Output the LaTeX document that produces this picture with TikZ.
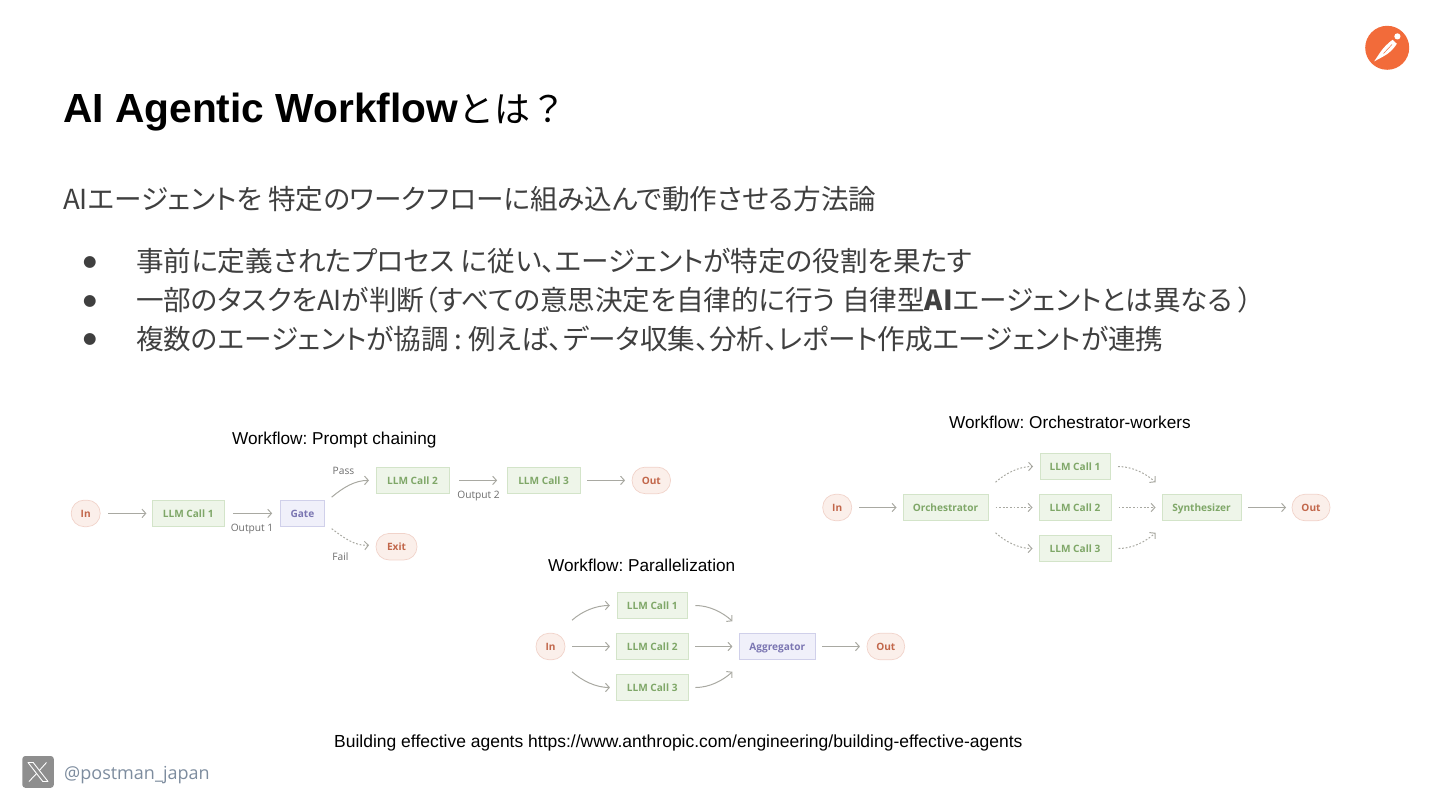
\documentclass[tikz,border=0pt]{standalone}
\usepackage{fontspec}
\usetikzlibrary{arrows.meta,calc}
\setmainfont{Liberation Sans}
\newfontfamily\cjk[RawFeature={+palt}]{Noto Sans CJK JP}
\newfontfamily\cjkfull{Noto Sans CJK JP}
\newfontfamily\flowfont{Open Sans}
\newfontfamily\bulletfont{DejaVu Sans}
\definecolor{bodytxt}{HTML}{3F3F3F}
\definecolor{arrowc}{HTML}{A9A9A2}
\definecolor{gfill}{HTML}{EEF5E9}
\definecolor{gline}{HTML}{D3E4C9}
\definecolor{gtext}{HTML}{7FA768}
\definecolor{pfill}{HTML}{F0F0FA}
\definecolor{pline}{HTML}{D0D0EA}
\definecolor{ptext}{HTML}{7B76B2}
\definecolor{rfill}{HTML}{FBEFEA}
\definecolor{rline}{HTML}{F1D3CA}
\definecolor{rtext}{HTML}{C2674B}
\definecolor{lbl}{HTML}{6C6C6C}
\definecolor{handle}{HTML}{7D8C9E}
\definecolor{orange}{HTML}{F26B3A}
\definecolor{xgray}{HTML}{8E8E8E}
\frenchspacing
\tikzset{
  boxbase/.style={draw,line width=.7pt,outer sep=0pt,inner sep=0pt,minimum height=26.5pt,text height=7.2pt,text depth=0pt,font=\flowfont\bfseries\fontsize{10.1}{12}\selectfont},
  llm/.style={boxbase,fill=gfill,draw=gline,text=gtext},
  gatebox/.style={boxbase,fill=pfill,draw=pline,text=ptext},
  pill/.style={boxbase,fill=rfill,draw=rline,text=rtext,rounded corners=13pt},
  conn/.style={draw=arrowc,line width=1pt,-{Straight Barb[length=3.8pt,width=8.5pt]}},
  conndot/.style={conn,dash pattern=on 1.8pt off 1.8pt},
  lab/.style={font=\flowfont\fontsize{10.2}{12}\selectfont,text=lbl,inner sep=0pt},
  captxt/.style={font=\fontsize{17.2}{20}\selectfont,text=black,anchor=base west,inner sep=0pt},
  jp/.style={font=\cjk\fontsize{27.6}{32}\selectfont,text=bodytxt,anchor=base west,inner sep=0pt},
  bul/.style={font=\bulletfont\fontsize{15.5}{20}\selectfont,text=bodytxt,inner sep=0pt},
}
\begin{document}
\begin{tikzpicture}[x=1pt,y=-1pt]
\useasboundingbox (0,0) rectangle (1440,810);
% title
\node[anchor=base west,inner sep=0pt,text=black] (title) at (63,123) {\fontsize{40.7}{48}\selectfont\bfseries AI Agentic Workflow\cjkfull\mdseries\fontsize{36}{48}\selectfont とは？};
\node[jp] (lead) at (63,210) {AIエージェントを 特定のワークフローに組み込んで動作させる方法論};
\node[bul] (b1) at (90,262.5) {●};
\node[bul] (b2) at (90,301) {●};
\node[bul] (b3) at (90,339.5) {●};
\node[jp] (l1) at (136,272) {事前に定義されたプロセス に従い、エージェントが特定の役割を果たす};
\node[jp] (l2) at (136,310.5) {一部のタスクをAIが判断（すべての意思決定を自律的に行う 自律型{\bfseries AI}エージェントとは異なる ）};
\node[jp] (l3) at (136,349) {複数のエージェントが協調 : 例えば、データ収集、分析、レポート作成エージェントが連携};
% captions
\node[captxt] (c1) at (232,444) {Workflow: Prompt chaining};
\node[captxt] (c2) at (548,571) {Workflow: Parallelization};
\node[captxt] (c3) at (949,428) {Workflow: Orchestrator-workers};
\node[captxt,font=\fontsize{17.48}{20}\selectfont] (c4) at (334,747) {Building effective agents https://www.anthropic.com/engineering/building-effective-agents};
% prompt chaining
\node[pill,minimum width=29pt] (pIn) at (85.7,513.4) {In};
\node[llm,minimum width=71.5pt] (pA) at (188.2,513.4) {LLM Call 1};
\node[gatebox,minimum width=44.5pt] (pG) at (302.4,513.4) {Gate};
\node[llm,minimum width=73pt] (pB) at (412.5,480.4) {LLM Call 2};
\node[llm,minimum width=73pt] (pC) at (543.6,480.4) {LLM Call 3};
\node[pill,minimum width=38.5pt] (pOut) at (651.3,480.4) {Out};
\node[pill,minimum width=41pt] (pExit) at (396.5,546.7) {Exit};
\node[lab] (lo1) at (252,529) {Output 1};
\node[lab] (lo2) at (478.5,496.5) {Output 2};
\node[lab] (lpass) at (343.5,470.5) {Pass};
\node[lab] (lfail) at (340.5,557) {Fail};
\draw[conn] ($(pIn.east)+(8,0)$) -- ($(pA.west)+(-6,0)$);
\draw[conn] ($(pA.east)+(9,0)$) -- ($(pG.west)+(-8,0)$);
\draw[conn] ($(pG.north east)+(7,-3)$) .. controls +(12,-10) and +(-14,0) .. ($(pB.west)+(-7,0)$);
\draw[conndot] ($(pG.south east)+(7,2)$) .. controls +(12,9) and +(-14,1) .. ($(pExit.west)+(-7,-1.5)$);
\draw[conn] ($(pB.east)+(10,0)$) -- ($(pC.west)+(-10,0)$);
\draw[conn] ($(pC.east)+(7,0)$) -- ($(pOut.west)+(-7,0)$);
% parallelization
\node[pill,minimum width=29pt] (qIn) at (550.5,646.5) {In};
\node[llm,minimum width=70pt] (qA) at (652.3,605.5) {LLM Call 1};
\node[llm,minimum width=71.5pt] (qB) at (652.2,646.5) {LLM Call 2};
\node[llm,minimum width=71.5pt] (qC) at (652.2,687.5) {LLM Call 3};
\node[gatebox,minimum width=76.7pt] (qG) at (777.3,646.5) {Aggregator};
\node[pill,minimum width=37.7pt] (qOut) at (885.8,646.5) {Out};
\draw[conn] ($(qIn.north east)+(7,-13)$) .. controls +(10,-9) and +(-14,0) .. ($(qA.west)+(-7.5,0)$);
\draw[conn] ($(qIn.east)+(7,0)$) -- ($(qB.west)+(-6.5,0)$);
\draw[conn] ($(qIn.south east)+(7,12)$) .. controls +(10,9) and +(-14,0) .. ($(qC.west)+(-6.5,0)$);
\draw[conn] ($(qA.east)+(8,0)$) .. controls +(14,0) and +(-10,-9) .. ($(qG.north west)+(-6.5,-12)$);
\draw[conn] ($(qB.east)+(7.5,0)$) -- ($(qG.west)+(-6.5,0)$);
\draw[conn] ($(qC.east)+(7.5,0)$) .. controls +(14,0) and +(-10,9) .. ($(qG.south west)+(-6.5,12)$);
\draw[conn] ($(qG.east)+(6.8,0)$) -- ($(qOut.west)+(-7,0)$);
% orchestrator-workers
\node[pill,minimum width=29pt] (rIn) at (837.2,507.5) {In};
\node[llm,minimum width=85pt] (rO) at (945.5,507.5) {Orchestrator};
\node[llm,minimum width=70pt] (rA) at (1075,466.5) {LLM Call 1};
\node[llm,minimum width=72pt] (rB) at (1075,507.5) {LLM Call 2};
\node[llm,minimum width=72pt] (rC) at (1075,548.5) {LLM Call 3};
\node[llm,minimum width=79pt] (rS) at (1201.5,507.5) {Synthesizer};
\node[pill,minimum width=38pt] (rOut) at (1311,507.5) {Out};
\draw[conn] ($(rIn.east)+(7.5,0)$) -- ($(rO.west)+(-6.5,0)$);
\draw[conndot] ($(rO.north east)+(7.5,-12)$) .. controls +(10,-9) and +(-14,0) .. ($(rA.west)+(-7,0)$);
\draw[conndot] ($(rO.east)+(7.5,0)$) -- ($(rB.west)+(-6.5,0)$);
\draw[conndot] ($(rO.south east)+(7.5,12)$) .. controls +(10,9) and +(-14,0) .. ($(rC.west)+(-6.5,0)$);
\draw[conndot] ($(rA.east)+(8,0)$) .. controls +(14,0) and +(-10,-9) .. ($(rS.north west)+(-6.5,-12)$);
\draw[conndot] ($(rB.east)+(7.5,0)$) -- ($(rS.west)+(-6.5,0)$);
\draw[conndot] ($(rC.east)+(7.5,0)$) .. controls +(14,0) and +(-10,9) .. ($(rS.south west)+(-6.5,12)$);
\draw[conn] ($(rS.east)+(7,0)$) -- ($(rOut.west)+(-6,0)$);
% postman logo
\fill[orange] (1387.2,47.8) circle (22);
\fill[white] (1397.4,36.4) circle (3.1);
\fill[white,line join=round] (1392.6,39.8) -- (1396.8,43.8) .. controls (1394,48.5) and (1389,53.5) .. (1383.4,56.4) -- (1374.2,61.4) -- (1379.6,53.2) .. controls (1383,48) and (1388,43) .. (1392.6,39.8) -- cycle;
\draw[orange,line width=.5pt] (1392,44.5) -- (1383.5,53.5);
% X logo
\fill[xgray,rounded corners=3pt] (22.3,756) rectangle (53.8,787.8);
\draw[white,line width=.9pt,line join=round] (28,762.5) -- (33.2,762.5) -- (48,781.5) -- (42.8,781.5) -- cycle;
\draw[white,line width=.9pt] (46.5,762.5) -- (39.4,770.4) (36.5,773.6) -- (29,781.5);
\node[anchor=base west,inner sep=0pt,text=handle,font=\flowfont\fontsize{18}{22}\selectfont] (hand) at (64,779) {@postman\_japan};
\end{tikzpicture}
\end{document}
